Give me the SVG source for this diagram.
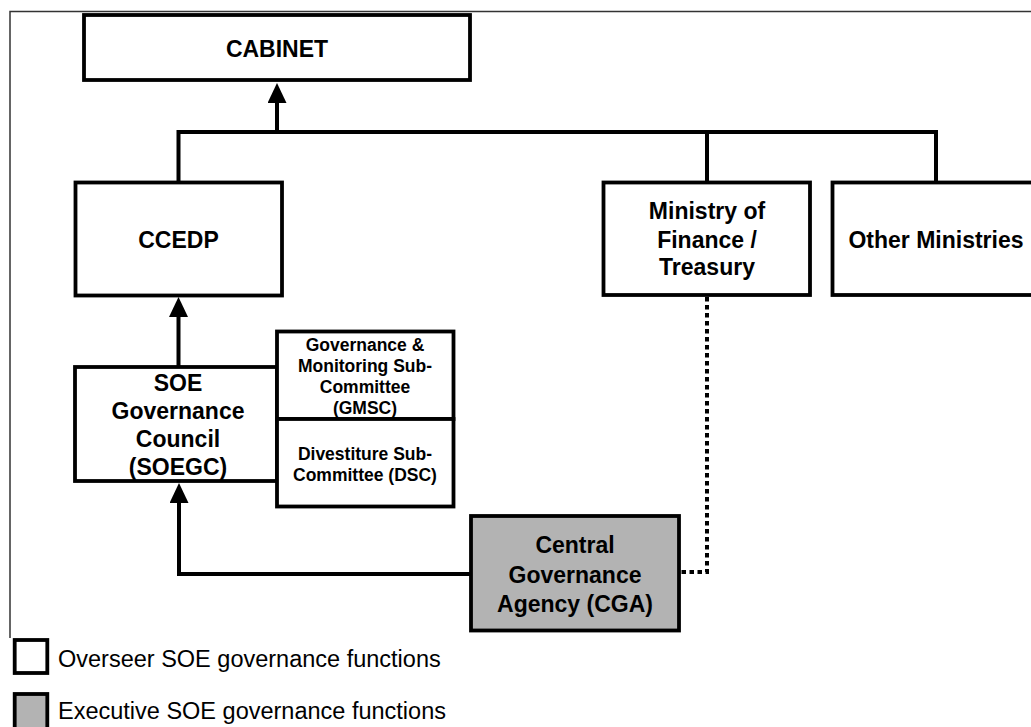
<svg xmlns="http://www.w3.org/2000/svg" width="1031" height="727" viewBox="0 0 1031 727">
<style>
.box{fill:#ffffff;stroke:#000000;stroke-width:3.8}
.gbox{fill:#b3b3b3;stroke:#000000;stroke-width:3.8}
.t{font-family:"Liberation Sans",Arial,Helvetica,sans-serif;font-weight:bold;font-size:23px;fill:#000000;text-anchor:middle}
.s{font-family:"Liberation Sans",Arial,Helvetica,sans-serif;font-weight:bold;font-size:17.5px;fill:#000000;text-anchor:middle}
.lg{font-family:"Liberation Sans",Arial,Helvetica,sans-serif;font-size:23.5px;fill:#000000}
.c{fill:none;stroke:#000000;stroke-width:4}
.d{fill:none;stroke:#000000;stroke-width:4;stroke-dasharray:4.5 3.5}
.frame{fill:none;stroke:#333333;stroke-width:1.5}
</style>
<defs>
<marker id="arr" viewBox="0 0 20 19" refX="0" refY="9.5" markerWidth="20" markerHeight="19" markerUnits="userSpaceOnUse" orient="auto">
<path d="M0,0 L20,9.5 L0,19 z" fill="#000000"/>
</marker>
</defs>
<rect x="0" y="0" width="1031" height="727" fill="#ffffff"/>
<path class="frame" d="M10,638 V11.5 H1031"/>
<g id="connectors">
<path class="c" d="M178.5,182 V132 H936 V182"/>
<path class="c" d="M707,132 V182"/>
<path class="c" d="M277,132 V103" marker-end="url(#arr)"/>
<path class="c" d="M178.5,367 V317" marker-end="url(#arr)"/>
<path class="c" d="M471,574 H179 V503" marker-end="url(#arr)"/>
<path class="d" d="M707,297 V572 H681"/>
</g>
<g id="cabinet">
<rect class="box" x="84" y="15" width="386" height="65"/>
<text class="t" x="277" y="57">CABINET</text>
</g>
<g id="ccedp">
<rect class="box" x="75.5" y="182.5" width="206.5" height="113"/>
<text class="t" x="178.5" y="248">CCEDP</text>
</g>
<g id="ministry-finance">
<rect class="box" x="603.5" y="182.5" width="206.5" height="112.5"/>
<text class="t" x="707" y="219">Ministry of</text>
<text class="t" x="707" y="248">Finance /</text>
<text class="t" x="707" y="275">Treasury</text>
</g>
<g id="other-ministries">
<rect class="box" x="832.5" y="182.5" width="220" height="112.5"/>
<text class="t" x="936" y="248">Other Ministries</text>
</g>
<g id="soegc">
<rect class="box" x="75" y="367" width="202" height="114"/>
<text class="t" x="178" y="391">SOE</text>
<text class="t" x="178" y="419">Governance</text>
<text class="t" x="178" y="447">Council</text>
<text class="t" x="178" y="475">(SOEGC)</text>
</g>
<g id="gmsc">
<rect class="box" x="277" y="331.5" width="176.5" height="87.5"/>
<text class="s" x="365" y="351">Governance &amp;</text>
<text class="s" x="365" y="372">Monitoring Sub-</text>
<text class="s" x="365" y="393">Committee</text>
<text class="s" x="365" y="414">(GMSC)</text>
</g>
<g id="dsc">
<rect class="box" x="277" y="419" width="176.5" height="87.5"/>
<text class="s" x="365" y="460">Divestiture Sub-</text>
<text class="s" x="365" y="481">Committee (DSC)</text>
</g>
<g id="cga">
<rect class="gbox" x="471" y="516" width="208" height="114.5"/>
<text class="t" x="575" y="553">Central</text>
<text class="t" x="575" y="583">Governance</text>
<text class="t" x="575" y="612">Agency (CGA)</text>
</g>
<g id="legend">
<rect class="box" x="14.7" y="640" width="32.6" height="33"/>
<text class="lg" x="58" y="667">Overseer SOE governance functions</text>
<rect class="gbox" x="14.7" y="694" width="32.6" height="40"/>
<text class="lg" x="58" y="719">Executive SOE governance functions</text>
</g>
</svg>
